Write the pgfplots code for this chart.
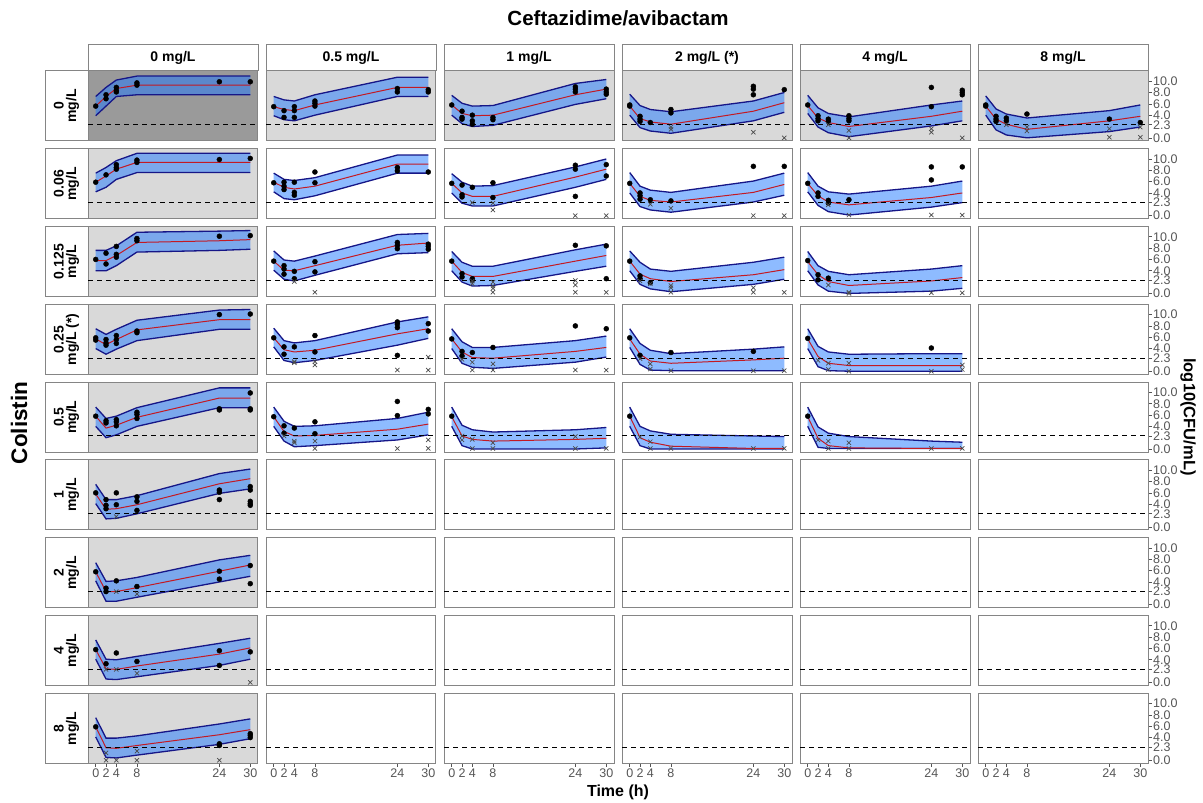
\documentclass[border=0pt]{standalone}
\usepackage{fontspec}
\setmainfont{Liberation Sans}
\usepackage{pgfplots}
\pgfplotsset{compat=1.18}
\usepackage{pgfplotstable}
\usepgfplotslibrary{fillbetween}

\definecolor{darkbg}{HTML}{9A9A9A}
\definecolor{lightbg}{HTML}{D9D9D9}
\definecolor{bandc}{RGB}{30,120,255}
\definecolor{navy}{RGB}{22,22,135}
\definecolor{medred}{RGB}{195,25,35}
\definecolor{framec}{HTML}{858585}
\definecolor{tickc}{HTML}{555555}
\definecolor{crossc}{HTML}{4A4A4A}

\pgfplotsset{
  panel/.style={
    scale only axis, width=170pt, height=70pt,
    xmin=-1.5, xmax=31.5, ymin=-0.56, ymax=11.8,
    xtick=\empty, ytick=\empty,
    axis line style={framec, line width=1pt},
    anchor=north west,
    tick style={tickc, line width=0.6pt},
    tick align=outside, major tick length=3.5pt,
    ticklabel style={font=\fontsize{12.5}{13}\selectfont, text=tickc},
    /pgf/number format/assume math mode=true,
  },
  bottomrow/.style={xtick={0,2,4,8,24,30}, xticklabels={0,2,4,8,24,30}, xtick pos=left,
    xticklabel style={inner sep=1.5pt}},
  rightcol/.style={ytick={0,2.3,4,6,8,10}, yticklabels={0.0,2.3,4.0,6.0,8.0,10.0}, ytick pos=right, yticklabel pos=right,
    yticklabel style={inner sep=1.5pt}},
  bgD/.style={axis background/.style={fill=darkbg}},
  bgL/.style={axis background/.style={fill=lightbg}},
}

\newcommand{\band}[1]{%
  \addplot[name path=hi, draw=none] table[x=t,y=hi]{#1};
  \addplot[name path=lo, draw=none] table[x=t,y=lo]{#1};
  \addplot[fill=bandc, fill opacity=0.5, draw=none] fill between[of=hi and lo];
  \addplot[navy, line width=1.3pt] table[x=t,y=hi]{#1};
  \addplot[navy, line width=1.3pt] table[x=t,y=lo]{#1};
  \addplot[medred, line width=1pt] table[x=t,y=med]{#1};
}
\newcommand{\pts}[1]{\addplot[only marks, mark=*, mark size=2.5pt, black] coordinates {#1};}
\newcommand{\crs}[1]{\addplot[only marks, mark=x, mark size=3pt, crossc, line width=0.7pt] coordinates {#1};}
\newcommand{\panel}[5]{%
  \begin{axis}[panel, at={({(88+178*#1)*1pt},{(732-77.8*#2)*1pt})}, #3]
  #4
  \addplot[black, line width=1pt, dash pattern=on 5pt off 4pt] coordinates {(-1.5,2.3) (31.5,2.3)};
  #5
  \end{axis}}

% band tables: t lo med hi
\pgfplotstableread[row sep=\\]{t lo med hi\\0 3.9 5.6 7.3\\2 5.6 7.3 8.9\\4 7.3 8.7 10.2\\8 7.6 9.3 10.9\\24 7.6 9.3 10.9\\30 7.6 9.3 10.9\\}\Raa
\pgfplotstableread[row sep=\\]{t lo med hi\\0 3.9 5.5 7.3\\2 3.2 5.0 6.7\\4 3.0 4.8 6.5\\8 4.0 5.8 7.6\\24 7.3 8.9 10.7\\30 7.3 8.9 10.7\\}\Rab
\pgfplotstableread[row sep=\\]{t lo med hi\\0 4.0 5.8 7.5\\2 2.5 4.3 6.1\\4 2.0 3.9 5.6\\8 2.2 4.0 5.7\\24 5.9 7.6 9.6\\30 6.9 8.6 10.3\\}\Rac
\pgfplotstableread[row sep=\\]{t lo med hi\\0 4.0 5.6 7.7\\2 1.8 3.4 5.7\\4 1.2 2.8 5.0\\8 0.8 2.4 4.6\\24 3.0 4.7 6.5\\30 4.5 6.2 8.0\\}\Rad
\pgfplotstableread[row sep=\\]{t lo med hi\\0 4.3 5.7 7.5\\2 1.9 3.5 5.3\\4 0.9 2.7 4.3\\8 0.2 2.0 3.7\\24 2.1 3.8 5.8\\30 3.0 4.7 6.5\\}\Rae
\pgfplotstableread[row sep=\\]{t lo med hi\\0 4.0 5.6 7.4\\2 1.4 3.3 5.1\\4 0.5 2.4 4.2\\8 0.0 1.5 3.5\\24 1.1 3.0 4.8\\30 1.9 3.8 5.8\\}\Raf
\pgfplotstableread[row sep=\\]{t lo med hi\\0 4.2 5.9 7.5\\2 5.0 7.0 8.5\\4 6.4 8.2 9.7\\8 7.6 9.4 11.0\\24 7.6 9.4 11.0\\30 7.6 9.4 11.0\\}\Rba
\pgfplotstableread[row sep=\\]{t lo med hi\\0 4.2 5.9 7.5\\2 3.0 5.0 6.4\\4 2.8 4.7 6.2\\8 3.5 5.2 6.7\\24 7.5 9.1 10.7\\30 7.5 9.1 10.7\\}\Rbb
\pgfplotstableread[row sep=\\]{t lo med hi\\0 4.0 5.7 7.4\\2 2.2 4.0 5.9\\4 1.7 3.4 5.2\\8 1.7 3.4 5.3\\24 5.0 6.8 8.6\\30 6.4 8.2 10.0\\}\Rbc
\pgfplotstableread[row sep=\\]{t lo med hi\\0 4.0 5.7 7.6\\2 1.6 3.4 5.2\\4 1.0 2.7 4.5\\8 0.6 2.4 4.1\\24 2.4 4.1 6.1\\30 3.6 5.5 7.5\\}\Rbd
\pgfplotstableread[row sep=\\]{t lo med hi\\0 4.2 5.7 7.6\\2 1.8 3.5 5.2\\4 0.7 2.4 4.2\\8 0.1 1.9 3.8\\24 1.5 3.2 5.2\\30 2.3 4.0 6.1\\}\Rbe
\pgfplotstableread[row sep=\\]{t lo med hi\\0 4.0 5.8 7.6\\2 4.0 5.8 7.6\\4 4.9 6.7 8.4\\8 7.3 9.0 10.8\\24 7.6 9.3 11.0\\30 7.8 9.5 11.1\\}\Rca
\pgfplotstableread[row sep=\\]{t lo med hi\\0 4.1 5.7 7.5\\2 2.5 4.1 5.9\\4 2.2 4.0 5.7\\8 3.2 4.9 6.6\\24 7.0 8.5 10.4\\30 7.2 8.9 10.6\\}\Rcb
\pgfplotstableread[row sep=\\]{t lo med hi\\0 4.0 5.7 7.4\\2 2.0 3.7 5.5\\4 1.3 3.0 4.8\\8 1.4 3.0 4.8\\24 3.9 5.7 7.7\\30 4.8 6.7 8.7\\}\Rcc
\pgfplotstableread[row sep=\\]{t lo med hi\\0 4.0 5.7 7.5\\2 1.6 3.4 5.5\\4 0.8 2.6 4.3\\8 0.3 2.1 3.9\\24 1.6 3.3 5.5\\30 2.5 4.2 6.4\\}\Rcd
\pgfplotstableread[row sep=\\]{t lo med hi\\0 4.0 5.6 7.4\\2 1.5 3.3 4.9\\4 0.4 2.1 3.9\\8 0.0 1.4 3.3\\24 0.4 2.2 4.3\\30 0.9 2.8 4.9\\}\Rce
\pgfplotstableread[row sep=\\]{t lo med hi\\0 4.0 5.7 7.5\\2 3.0 4.7 6.5\\4 3.9 5.6 7.4\\8 5.4 7.3 9.0\\24 7.4 9.1 10.8\\30 7.4 9.1 10.9\\}\Rda
\pgfplotstableread[row sep=\\]{t lo med hi\\0 4.3 5.9 7.6\\2 1.9 3.8 5.4\\4 1.5 3.4 5.0\\8 1.9 3.7 5.4\\24 4.6 6.6 8.7\\30 5.8 7.5 9.6\\}\Rdb
\pgfplotstableread[row sep=\\]{t lo med hi\\0 4.0 5.7 7.5\\2 1.4 3.4 5.2\\4 0.7 2.4 4.2\\8 0.5 2.3 4.2\\24 1.6 3.5 5.4\\30 2.5 4.2 6.2\\}\Rdc
\pgfplotstableread[row sep=\\]{t lo med hi\\0 4.2 5.7 7.5\\2 1.2 3.0 4.9\\4 0.2 1.8 3.7\\8 0.1 1.4 3.1\\24 0.1 2.0 3.9\\30 0.1 2.3 4.3\\}\Rdd
\pgfplotstableread[row sep=\\]{t lo med hi\\0 4.0 5.7 7.5\\2 0.8 2.6 4.4\\4 0.1 1.4 3.4\\8 0.0 1.0 3.0\\24 0.0 1.0 3.1\\30 0.0 1.0 3.1\\}\Rde
\pgfplotstableread[row sep=\\]{t lo med hi\\0 4.0 5.8 7.4\\2 2.0 3.7 5.4\\4 2.5 4.2 5.8\\8 4.0 5.6 7.3\\24 7.3 9.0 10.8\\30 7.3 9.0 10.8\\}\Rea
\pgfplotstableread[row sep=\\]{t lo med hi\\0 4.0 5.7 7.4\\2 1.4 3.1 4.9\\4 0.4 2.3 4.0\\8 0.6 2.4 4.1\\24 1.6 3.5 5.4\\30 2.5 4.4 6.5\\}\Reb
\pgfplotstableread[row sep=\\]{t lo med hi\\0 4.0 5.7 7.4\\2 0.6 2.3 4.2\\4 0.0 1.7 3.4\\8 0.0 1.4 3.0\\24 0.0 1.7 3.4\\30 0.2 1.9 3.8\\}\Rec
\pgfplotstableread[row sep=\\]{t lo med hi\\0 4.0 5.8 7.4\\2 0.6 2.0 4.0\\4 0.0 1.2 3.2\\8 0.0 0.5 2.6\\24 0.0 0.1 2.3\\30 0.0 0.1 2.2\\}\Red
\pgfplotstableread[row sep=\\]{t lo med hi\\0 4.0 5.7 7.4\\2 0.3 1.9 3.9\\4 0.1 0.6 2.8\\8 0.1 0.2 2.2\\24 0.1 0.1 1.4\\30 0.1 0.1 1.2\\}\Ree
\pgfplotstableread[row sep=\\]{t lo med hi\\0 4.1 5.8 7.5\\2 1.4 3.1 4.8\\4 1.5 3.2 4.8\\8 2.3 3.9 5.5\\24 5.9 7.6 9.4\\30 6.7 8.5 10.2\\}\Rfa
\pgfplotstableread[row sep=\\]{t lo med hi\\0 4.2 5.8 7.4\\2 0.6 2.3 4.1\\4 0.6 2.3 4.2\\8 1.3 3.0 4.8\\24 4.0 5.9 7.9\\30 5.0 7.0 8.7\\}\Rga
\pgfplotstableread[row sep=\\]{t lo med hi\\0 4.1 5.8 7.5\\2 0.6 2.4 4.1\\4 0.5 2.3 4.0\\8 1.0 2.9 4.6\\24 3.0 5.0 6.9\\30 4.1 6.1 7.8\\}\Rha
\pgfplotstableread[row sep=\\]{t lo med hi\\0 4.1 5.9 7.5\\2 0.5 2.2 3.9\\4 0.4 2.1 3.9\\8 0.9 2.6 4.3\\24 2.8 4.5 6.4\\30 3.8 5.4 7.3\\}\Ria

\begin{document}
\begin{tikzpicture}
\path (0pt,0pt) rectangle (1203pt,803pt);

% column strips
\foreach \c/\lab in {0/{0 mg/L},1/{0.5 mg/L},2/{1 mg/L},3/{2 mg/L (*)},4/{4 mg/L},5/{8 mg/L}} {
  \draw[framec, line width=1pt, fill=white] ({(88+178*\c)*1pt},758pt) rectangle ({(258+178*\c)*1pt},732pt);
  \node[font=\fontsize{14}{16}\bfseries\selectfont] at ({(173+178*\c)*1pt},745pt) {\lab};
}
% row strips
\foreach \r/\lab in {0/{0\\mg/L},1/{0.06\\mg/L},2/{0.125\\mg/L},3/{0.25\\mg/L (*)},4/{0.5\\mg/L},5/{1\\mg/L},6/{2\\mg/L},7/{4\\mg/L},8/{8\\mg/L}} {
  \draw[framec, line width=1pt, fill=white] (45pt,{(732-77.8*\r)*1pt}) rectangle (88pt,{(662-77.8*\r)*1pt});
  \node[font=\fontsize{14}{12.5}\bfseries\selectfont, rotate=90, align=center] at (66.5pt,{(697-77.8*\r)*1pt}) {\lab};
}

% ---------- row 0 (colistin 0 mg/L)
\panel{0}{0}{bgD}{\band{\Raa}}{\pts{(0,5.6) (2,6.9) (2,7.6) (4,8.9) (4,8.4) (4,8.1) (8,9.7) (8,9.3) (24,9.9) (30,9.9)}}
\panel{1}{0}{bgL}{\band{\Rab}}{\pts{(0,5.5) (2,4.8) (2,3.6) (4,5.5) (4,4.8) (4,3.6) (8,6.5) (8,6.1) (8,5.6) (24,8.7) (24,8.1) (30,8.5) (30,8.1)}}
\panel{2}{0}{bgL}{\band{\Rac}}{\pts{(0,5.8) (2,4.7) (2,3.6) (2,3.3) (4,4.0) (4,3.0) (4,2.4) (8,3.6) (8,3.2) (24,9.0) (24,8.6) (24,8.1) (30,8.6) (30,8.1) (30,7.7)}}
\panel{3}{0}{bgL}{\band{\Rad}}{\pts{(0,5.8) (0,5.6) (2,3.8) (2,3.3) (2,2.9) (4,2.7) (8,5.0) (8,4.4) (24,9.1) (24,8.6) (24,7.6) (30,8.5)}\crs{(8,1.9) (8,1.5) (24,1.0) (30,0.0)}}
\panel{4}{0}{bgL}{\band{\Rae}}{\pts{(0,5.8) (2,3.9) (2,3.4) (2,3.0) (4,3.3) (4,2.9) (8,3.9) (8,3.4) (8,3.0) (24,8.9) (24,5.5) (30,8.4) (30,8.0) (30,7.6)}\crs{(4,2.3) (8,1.3) (8,0.0) (24,1.6) (24,1.0) (30,0.0)}}
\panel{5}{0}{bgL,rightcol}{\band{\Raf}}{\pts{(0,5.8) (0,5.6) (2,3.8) (2,3.3) (2,2.9) (4,3.5) (4,3.0) (8,4.2) (24,3.3) (30,2.7)}\crs{(4,2.3) (8,1.9) (8,1.2) (24,1.6) (24,0.1) (30,1.9) (30,0.1)}}
% ---------- row 1 (0.06)
\panel{0}{1}{bgL}{\band{\Rba}}{\pts{(0,5.9) (2,7.2) (4,9.0) (4,8.5) (4,8.2) (8,9.8) (8,9.4) (24,9.9) (30,10.1)}}
\panel{1}{1}{}{\band{\Rbb}}{\pts{(0,5.8) (2,5.9) (2,5.2) (2,4.6) (4,5.9) (4,4.1) (4,3.6) (8,7.7) (8,5.8) (24,8.5) (24,7.9) (30,7.7)}}
\panel{2}{1}{}{\band{\Rbc}}{\pts{(0,5.7) (2,5.4) (2,3.7) (2,3.3) (4,5.0) (8,5.8) (8,3.2) (24,8.9) (24,8.2) (24,3.4) (30,9.0) (30,7.0)}\crs{(4,2.3) (8,2.2) (8,1.0) (24,0.0) (30,0.0)}}
\panel{3}{1}{}{\band{\Rbd}}{\pts{(0,5.7) (2,4.0) (2,3.5) (2,2.9) (4,2.8) (8,2.6) (24,8.7) (30,8.7)}\crs{(4,2.0) (8,1.3) (24,0.0) (30,0.0)}}
\panel{4}{1}{}{\band{\Rbe}}{\pts{(0,5.7) (2,4.0) (2,3.4) (4,2.7) (4,2.2) (8,2.8) (24,8.6) (24,6.3) (30,8.6)}\crs{(4,1.9) (8,0.1) (24,0.1) (30,0.1)}}
\panel{5}{1}{rightcol}{}{}
% ---------- row 2 (0.125)
\panel{0}{2}{bgL}{\band{\Rca}}{\pts{(0,6.0) (2,7.1) (2,5.2) (4,8.3) (4,6.9) (4,6.4) (8,9.7) (8,9.3) (24,10.1) (30,10.2)}}
\panel{1}{2}{}{\band{\Rcb}}{\pts{(0,5.7) (2,4.9) (2,4.3) (2,3.4) (4,3.9) (4,2.6) (8,5.6) (8,3.8) (24,9.0) (24,8.5) (24,7.9) (30,8.7) (30,8.3) (30,7.8)}\crs{(4,2.1) (8,0.2)}}
\panel{2}{2}{}{\band{\Rcc}}{\pts{(0,5.7) (2,3.5) (2,2.9) (4,2.6) (4,2.4) (24,8.5) (30,8.4) (30,2.6)}\crs{(4,2.2) (4,1.7) (8,2.0) (8,1.3) (8,0.9) (8,0.2) (24,2.3) (24,1.5) (24,0.2) (30,0.2)}}
\panel{3}{2}{}{\band{\Rcd}}{\pts{(0,5.7) (2,3.1) (2,2.6) (4,1.9)}\crs{(2,2.2) (4,1.7) (8,1.4) (8,1.0) (8,0.2) (24,1.0) (24,0.2) (30,0.2)}}
\panel{4}{2}{}{\band{\Rce}}{\pts{(0,5.8) (2,3.3) (2,2.4) (4,2.7)}\crs{(4,1.5) (8,0.2) (8,0.0) (24,0.1) (30,0.1)}}
\panel{5}{2}{rightcol}{}{}
% ---------- row 3 (0.25)
\panel{0}{3}{bgL}{\band{\Rda}}{\pts{(0,5.9) (0,5.5) (2,5.6) (2,5.0) (2,4.6) (4,6.3) (4,5.6) (4,4.9) (8,7.1) (8,6.8) (24,10.0) (30,10.1)}}
\panel{1}{3}{}{\band{\Rdb}}{\pts{(0,5.9) (2,4.3) (2,3.0) (4,4.3) (8,6.3) (8,3.4) (24,8.7) (24,8.3) (24,7.7) (24,2.8) (30,8.4) (30,7.1)}\crs{(4,1.7) (4,1.5) (8,1.7) (8,1.1) (24,0.2) (30,2.5) (30,0.2)}}
\panel{2}{3}{}{\band{\Rdc}}{\pts{(0,5.7) (2,3.5) (2,2.7) (4,3.3) (8,4.2) (24,8.0) (30,7.5)}\crs{(2,2.1) (4,1.6) (4,0.2) (8,1.3) (8,0.2) (24,0.2) (30,0.2)}}
\panel{3}{3}{}{\band{\Rdd}}{\pts{(0,5.9) (2,2.8) (8,3.3) (24,3.5)}\crs{(2,2.2) (4,1.3) (4,0.4) (8,0.1) (24,0.1) (30,0.1)}}
\panel{4}{3}{}{\band{\Rde}}{\pts{(0,5.8) (24,4.1)}\crs{(2,1.9) (4,1.4) (4,0.3) (8,1.4) (8,0.0) (24,0.0) (30,1.1) (30,0.3)}}
\panel{5}{3}{rightcol}{}{}
% ---------- row 4 (0.5)
\panel{0}{4}{bgL}{\band{\Rea}}{\pts{(0,5.8) (2,5.0) (2,4.6) (4,5.2) (4,4.8) (4,4.1) (8,6.5) (8,6.1) (8,5.4) (24,7.1) (24,6.9) (30,9.9) (30,7.1) (30,6.9)}}
\panel{1}{4}{}{\band{\Reb}}{\pts{(0,5.7) (2,4.1) (2,2.8) (4,3.7) (8,4.8) (8,2.7) (24,8.4) (24,5.9) (30,7.0) (30,6.2)}\crs{(2,2.3) (4,1.4) (4,1.1) (8,1.4) (8,0.1) (24,0.1) (30,1.6) (30,0.1)}}
\panel{2}{4}{}{\band{\Rec}}{\pts{(0,5.8)}\crs{(2,2.3) (2,1.6) (4,1.7) (4,0.1) (8,1.1) (8,0.1) (24,2.2) (24,0.1) (30,0.1)}}
\panel{3}{4}{}{\band{\Red}}{\pts{(0,5.8)}\crs{(2,2.1) (4,1.3) (4,0.1) (8,0.1) (24,0.1) (30,0.1)}}
\panel{4}{4}{}{\band{\Ree}}{\pts{(0,5.8)}\crs{(2,1.6) (4,1.4) (4,0.1) (8,1.1) (8,0.1) (24,0.1) (30,0.1)}}
\panel{5}{4}{rightcol}{}{}
% ---------- row 5 (1)
\panel{0}{5}{bgL}{\band{\Rfa}}{\pts{(0,6.0) (2,4.8) (2,3.8) (2,3.2) (4,6.0) (4,3.9) (8,5.3) (8,4.5) (8,2.9) (24,6.5) (24,6.1) (24,4.8) (30,7.1) (30,6.5) (30,4.5) (30,4.1) (30,3.8)}\crs{(4,1.8)}}
\panel{1}{5}{}{}{}
\panel{2}{5}{}{}{}
\panel{3}{5}{}{}{}
\panel{4}{5}{}{}{}
\panel{5}{5}{rightcol}{}{}
% ---------- row 6 (2)
\panel{0}{6}{bgL}{\band{\Rga}}{\pts{(0,5.8) (2,2.9) (2,2.3) (4,4.2) (8,3.2) (24,5.9) (24,4.5) (30,6.9) (30,3.7)}\crs{(4,2.3) (8,1.9)}}
\panel{1}{6}{}{}{}
\panel{2}{6}{}{}{}
\panel{3}{6}{}{}{}
\panel{4}{6}{}{}{}
\panel{5}{6}{rightcol}{}{}
% ---------- row 7 (4)
\panel{0}{7}{bgL}{\band{\Rha}}{\pts{(0,5.8) (2,3.3) (4,5.2) (8,3.7) (24,5.6) (24,3.0) (30,5.4)}\crs{(2,2.3) (4,2.3) (8,1.6) (30,0.0)}}
\panel{1}{7}{}{}{}
\panel{2}{7}{}{}{}
\panel{3}{7}{}{}{}
\panel{4}{7}{}{}{}
\panel{5}{7}{rightcol}{}{}
% ---------- row 8 (8)
\panel{0}{8}{bgL,bottomrow}{\band{\Ria}}{\pts{(0,5.9) (24,2.9) (24,2.6) (30,4.7) (30,4.4) (30,4.0)}\crs{(2,1.3) (2,0.0) (4,0.0) (8,1.6) (8,0.0) (24,0.0)}}
\panel{1}{8}{bottomrow}{}{}
\panel{2}{8}{bottomrow}{}{}
\panel{3}{8}{bottomrow}{}{}
\panel{4}{8}{bottomrow}{}{}
\panel{5}{8}{bottomrow,rightcol}{}{}

% titles
\node[font=\fontsize{20.5}{22}\bfseries\selectfont] at (618pt,785pt) {Ceftazidime/avibactam};
\node[font=\fontsize{16}{18}\bfseries\selectfont] at (618pt,11pt) {Time (h)};
\node[font=\fontsize{22.5}{24}\bfseries\selectfont, rotate=90] at (19pt,380pt) {Colistin};
\node[font=\fontsize{16.5}{18}\bfseries\selectfont, rotate=-90] at (1188pt,386pt) {log10(CFU/mL)};
\end{tikzpicture}
\end{document}
